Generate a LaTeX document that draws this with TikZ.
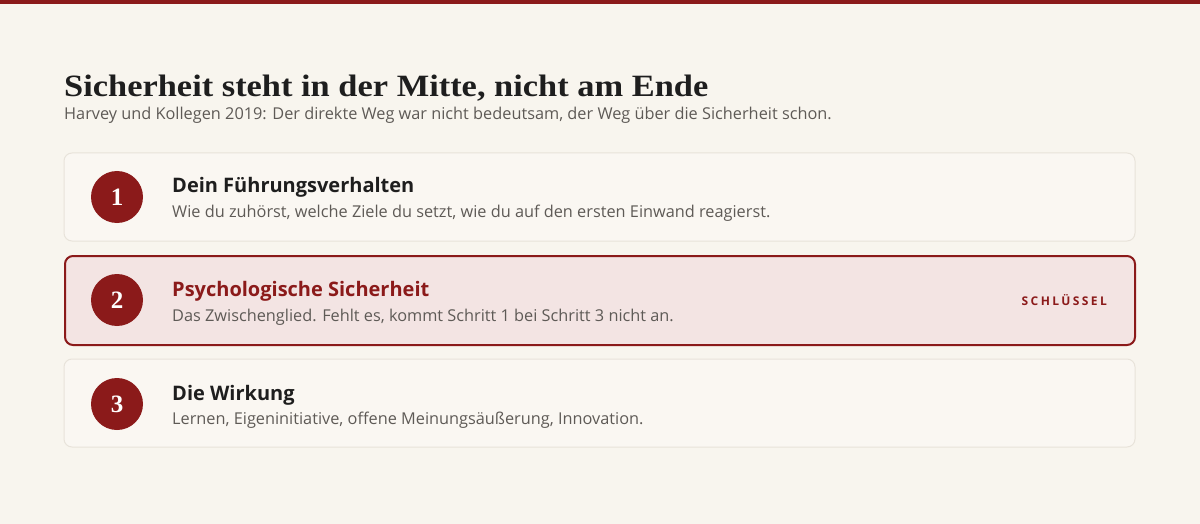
\documentclass[tikz,border=0pt]{standalone}
\usepackage{fontspec}
\setmainfont{Liberation Serif}
\newfontfamily\uisans{Open Sans}
\newfontfamily\titleserif{Liberation Serif}[FakeStretch=1.11]
\definecolor{bg}{HTML}{F8F5EE}
\definecolor{cardbg}{HTML}{FAF7F2}
\definecolor{cardline}{HTML}{E8E3DA}
\definecolor{brand}{HTML}{8B1A1A}
\definecolor{keybg}{HTML}{F3E4E3}
\definecolor{ink}{HTML}{1E1E1E}
\definecolor{muted}{HTML}{5E5A56}
\tikzset{
  card/.style={draw=cardline, line width=1pt, fill=cardbg, rounded corners=8pt},
  keycard/.style={draw=brand, line width=2pt, fill=keybg, rounded corners=8pt},
  numdot/.style={circle, fill=brand, minimum size=52pt, inner sep=0pt, text=white, font=\fontsize{25}{25}\selectfont\bfseries},
  ttl/.style={anchor=base west, inner sep=0pt, text=ink, font=\uisans\bfseries\fontsize{20}{24}\selectfont},
  dsc/.style={anchor=base west, inner sep=0pt, text=muted, font=\uisans\fontsize{16.3}{18}\selectfont},
}
\begin{document}
\begin{tikzpicture}[x=1pt,y=-1pt]
\useasboundingbox (0,0) rectangle (1200,524);
\fill[bg] (0,0) rectangle (1200,524);
\fill[brand] (0,0) rectangle (1200,4);
\node[anchor=base west, inner sep=0pt, text=ink, font=\titleserif\bfseries\fontsize{31}{36}\selectfont] (title) at (64,97) {Sicherheit steht in der Mitte, nicht am Ende};
\node[anchor=base west, inner sep=0pt, text=muted, font=\uisans\fontsize{16.3}{19}\selectfont] (sub) at (64,120) {Harvey und Kollegen 2019: Der direkte Weg war nicht bedeutsam, der Weg über die Sicherheit schon.};
% cards
\path[card] (64,153) rectangle (1135,241);
\node[numdot] (n1) at (117,197) {1};
\node[ttl] (t1) at (172,193) {Dein Führungsverhalten};
\node[dsc] (d1) at (172,218) {Wie du zuhörst, welche Ziele du setzt, wie du auf den ersten Einwand reagierst.};
\path[keycard] (65,256) rectangle (1135,345);
\node[numdot] (n2) at (117,300) {2};
\node[ttl, text=brand] (t2) at (172,296) {Psychologische Sicherheit};
\node[dsc] (d2) at (172,321) {Das Zwischenglied. Fehlt es, kommt Schritt 1 bei Schritt 3 nicht an.};
\node[anchor=base east, inner sep=0pt, text=brand, font=\uisans\bfseries\fontsize{12}{13}\selectfont\addfontfeatures{LetterSpace=20}] (key) at (1107,305) {SCHLÜSSEL};
\path[card] (64,359) rectangle (1135,447);
\node[numdot] (n3) at (117,404) {3};
\node[ttl] (t3) at (172,400) {Die Wirkung};
\node[dsc] (d3) at (172,424) {Lernen, Eigeninitiative, offene Meinungsäußerung, Innovation.};
\end{tikzpicture}
\end{document}
